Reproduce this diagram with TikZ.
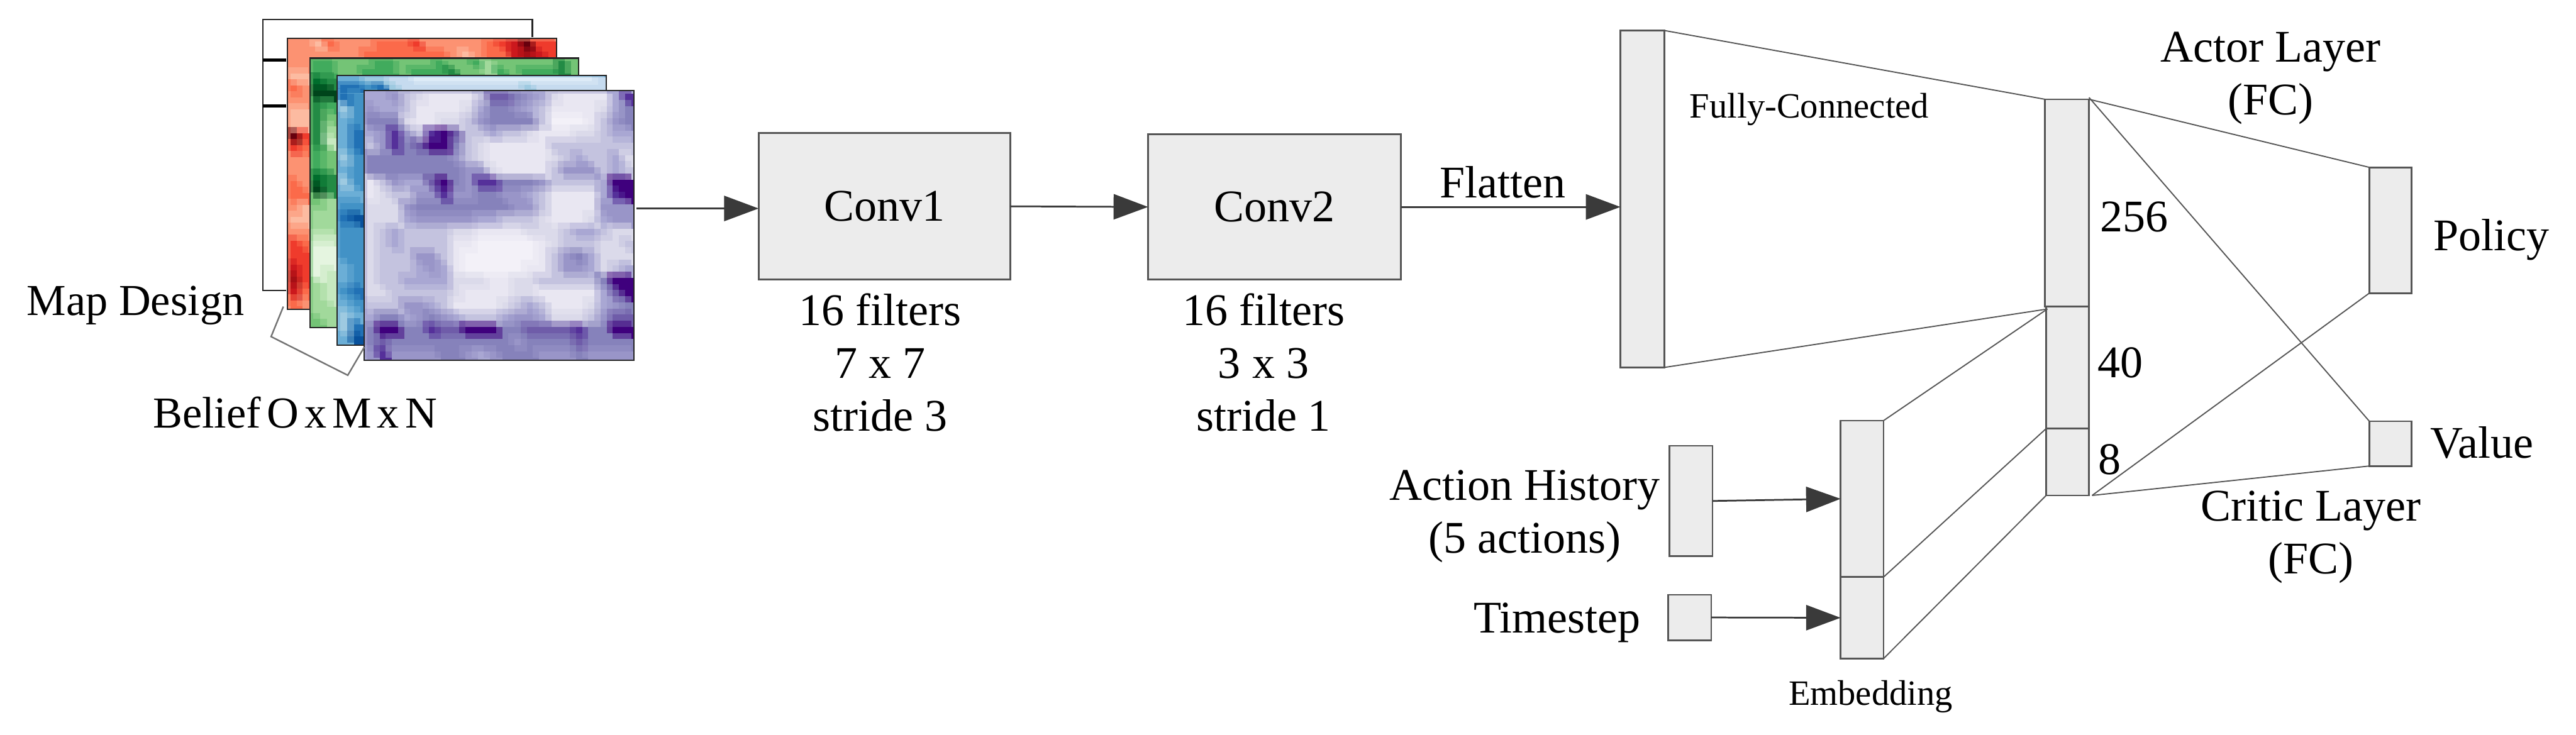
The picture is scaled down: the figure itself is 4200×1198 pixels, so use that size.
\documentclass[tikz,border=0pt]{standalone}
\usepackage{fontspec}
\setmainfont{Liberation Serif}
\usetikzlibrary{arrows.meta, calc}

\definecolor{boxgray}{HTML}{ECECEC}
\definecolor{linegray}{HTML}{555555}
\definecolor{tipgray}{HTML}{3A3A3A}

\definecolor{reds0}{HTML}{FFF5F0}\definecolor{reds1}{HTML}{FEE0D2}\definecolor{reds2}{HTML}{FCBBA1}
\definecolor{reds3}{HTML}{FC9272}\definecolor{reds4}{HTML}{FB6A4A}\definecolor{reds5}{HTML}{EF3B2C}
\definecolor{reds6}{HTML}{CB181D}\definecolor{reds7}{HTML}{A50F15}\definecolor{reds8}{HTML}{67000D}
\definecolor{greens0}{HTML}{F7FCF5}\definecolor{greens1}{HTML}{E5F5E0}\definecolor{greens2}{HTML}{C7E9C0}
\definecolor{greens3}{HTML}{A1D99B}\definecolor{greens4}{HTML}{74C476}\definecolor{greens5}{HTML}{41AB5D}
\definecolor{greens6}{HTML}{238B45}\definecolor{greens7}{HTML}{006D2C}\definecolor{greens8}{HTML}{00441B}
\definecolor{blues0}{HTML}{F7FBFF}\definecolor{blues1}{HTML}{DEEBF7}\definecolor{blues2}{HTML}{C6DBEF}
\definecolor{blues3}{HTML}{9ECAE1}\definecolor{blues4}{HTML}{6BAED6}\definecolor{blues5}{HTML}{4292C6}
\definecolor{blues6}{HTML}{2171B5}\definecolor{blues7}{HTML}{08519C}\definecolor{blues8}{HTML}{08306B}
\definecolor{purps0}{HTML}{F3F1F8}\definecolor{purps1}{HTML}{E9E7F2}\definecolor{purps2}{HTML}{DBDAEA}
\definecolor{purps3}{HTML}{C4C3DF}\definecolor{purps4}{HTML}{A9A7D3}\definecolor{purps5}{HTML}{9995C8}
\definecolor{purps6}{HTML}{8682BB}\definecolor{purps7}{HTML}{6F5CA9}\definecolor{purps8}{HTML}{55309A}
\definecolor{purps9}{HTML}{3F007D}

\newcommand{\heatgrid}[6]{
	\foreach \row [count=\j from 0] in {#6} {
		\foreach \v [count=\i from 0] in \row {
			\fill[#1\v] ({#2+\i*#4},{#3+\j*#5}) rectangle ++(#4+1,#5+1);
			\fill[#1\v, opacity=0.5] ({#2+\i*#4-#4/2},{#3+\j*#5-#5/2}) rectangle ++(#4,#5);
		}
	}
}

\tikzset{
	layer/.style = {draw=linegray, fill=boxgray, line width=0.8pt, inner sep=0pt, outer sep=0pt, font=\fontsize{21}{24.5}\selectfont},
	panel/.style = {draw=black!85, line width=0.6pt, inner sep=0pt, outer sep=0pt},
	caption/.style = {inner sep=0pt, outer sep=0pt, anchor=base, align=center, font=\fontsize{21}{24.5}\selectfont},
	small caption/.style = {caption, font=\fontsize{16.5}{20}\selectfont},
	link/.style = {draw=linegray, line width=0.55pt},
	flow/.style = {draw=tipgray, line width=0.8pt, -{Triangle[length=16pt, width=11.7pt, fill=tipgray]}},
}

\begin{document}
\begin{tikzpicture}[x=0.01cm, y=-0.01cm]
	\useasboundingbox (0,0) rectangle (4200,1198);

	\draw[black!85, line width=0.6pt] (467,474) -- (429,474) -- (429,32) -- (868,32) -- (868,61);
	\draw[black, line width=1.3pt] (429,98) -- (467,98);
	\draw[black, line width=1.3pt] (429,173) -- (467,173);

	\begin{scope}
		\clip (469,63) rectangle (907,504);
		\fill[reds3] (469,63) rectangle (907,504);
		\heatgrid{reds}{474}{68}{20}{16}{{3,3,2,4,3,3,3,4,4,4,5,3,3,3,3,3,4,5,6,8,5,5},{3,3,3,3,3,3,4,4,4,4,4,4,4,3,2,3,4,4,6,7,6,5}}
		\heatgrid{reds}{474}{100}{19}{19.5}{{3,3},{2,2},{4,3},{3,3},{2,2},{2,2},{8,5},{5,4},{3,3},{3,3},{4,3},{4,4},{3,2},{2,2},{3,3},{5,4},{5,5},{6,5},{7,5},{6,4},{4,3}}
	\end{scope}
	\node[panel, minimum width=4.38cm, minimum height=4.41cm] (redmap) at (688,283.5) {};

	\begin{scope}
		\clip (506,95) rectangle (943,534);
		\fill[greens4] (506,95) rectangle (943,534);
		\heatgrid{greens}{511}{99}{20}{14}{{5,5,4,4,4,5,5,4,4,4,5,4,4,5,3,4,4,4,4,4,6,4},{5,5,4,4,5,5,5,4,5,5,5,6,4,4,3,5,4,5,5,5,6,4}}
		\heatgrid{greens}{511}{128}{22}{19.6}{{7,6},{8,8},{6,5},{6,4},{6,3},{6,2},{5,4},{5,4},{7,6},{8,6},{4,3},{3,3},{3,3},{2,2},{1,1},{1,1},{1,2},{3,2},{3,2},{3,3},{4,3}}
	\end{scope}
	\node[panel, minimum width=4.37cm, minimum height=4.39cm] (greenmap) at (724.5,314.5) {};

	\begin{scope}
		\clip (550,123) rectangle (988,563);
		\fill[blues4] (550,123) rectangle (988,563);
		\heatgrid{blues}{555}{126}{20}{12.5}{{4,4,3,3,2,2,1,1,1,1,1,1,1,1,1,1,1,1,1,1,1,2},{6,6,5,6,3,2,2,2,2,2,2,2,2,2,2,3,2,2,2,2,2,2}}
		\heatgrid{blues}{555}{153}{22}{19.8}{{6,5},{3,5},{4,5},{4,6},{4,6},{3,5},{4,5},{3,5},{4,4},{5,5},{6,7},{5,5},{5,5},{5,5},{4,5},{4,5},{5,6},{4,5},{3,4},{3,6},{4,7}}
	\end{scope}
	\node[panel, minimum width=4.38cm, minimum height=4.40cm] (bluemap) at (769,343) {};

	\begin{scope}
		\clip (594,148) rectangle (1033,587);
		\fill[purps4] (594,148) rectangle (1033,587);
		\heatgrid{purps}{599}{153}{20}{20}{
			{4,4,5,3,2,1,1,1,1,3,7,7,6,5,4,2,1,1,1,1,4,8},
			{5,4,4,3,1,1,1,1,2,4,6,6,5,4,3,1,1,1,1,2,4,6},
			{6,6,6,2,1,1,2,2,3,5,6,6,6,6,3,0,0,0,1,3,5,6},
			{4,5,8,5,3,8,9,7,3,3,4,3,3,2,1,1,1,2,2,3,4,4},
			{3,5,8,6,7,9,9,6,3,2,1,1,1,1,1,3,3,3,3,3,3,3},
			{6,6,6,6,6,6,6,5,3,2,1,1,1,1,1,2,3,4,3,3,4,2},
			{6,6,6,6,6,6,6,6,5,5,2,1,1,1,1,3,5,5,5,3,4,3},
			{1,3,5,4,4,7,9,6,5,8,8,6,6,6,5,3,3,3,3,4,9,9},
			{1,2,3,3,5,5,8,5,5,6,6,5,5,4,3,1,1,1,1,4,8,9},
			{2,2,2,5,6,6,6,6,6,6,6,6,5,5,3,1,1,1,1,5,5,5},
			{2,2,2,4,5,5,5,5,5,4,4,3,3,3,2,1,1,1,2,4,5,5},
			{2,3,4,3,3,3,3,2,2,1,1,1,1,2,2,2,3,4,4,3,2,2},
			{2,3,4,3,3,3,3,1,1,0,0,0,0,0,1,2,3,3,3,2,2,3},
			{2,3,3,3,5,5,3,1,0,0,0,0,0,0,1,3,5,6,4,2,2,2},
			{2,3,3,3,4,5,4,1,0,0,0,0,0,1,1,3,5,5,4,2,3,4},
			{2,3,3,4,4,4,4,2,2,2,1,1,2,2,3,3,3,3,3,6,9,9},
			{2,2,3,3,3,3,3,2,1,1,1,1,2,2,1,1,1,1,1,4,7,9},
			{3,3,3,5,5,4,3,1,1,1,1,2,3,4,3,1,1,1,2,4,5,6},
			{4,6,6,4,5,6,5,4,3,3,3,4,5,5,4,2,2,2,3,5,7,7},
			{6,9,9,6,6,8,7,7,9,9,9,6,6,7,7,7,7,8,6,6,9,9},
			{6,7,6,6,6,6,6,6,6,6,6,6,5,6,6,6,6,7,6,6,6,6},
			{5,8,5,5,5,5,6,6,5,4,5,6,6,6,5,5,5,6,5,5,5,5}}
	\end{scope}
	\node[panel, minimum width=4.39cm, minimum height=4.39cm] (purplemap) at (813.5,367.5) {};

	\draw[draw=black!55, line width=0.7pt] (462,500) -- (442,549) -- (567,612) -- (594,566);

	\node[caption, font=\fontsize{20.5}{24.5}\selectfont] (mapdesign) at (221,514) {Map Design};
	\node[caption, font=\fontsize{20.5}{24.5}\selectfont] (belief) at (481,698) {\spaceskip=0.13em\relax Belief O x M x N};

	\node[layer, minimum width=4.10cm, minimum height=2.39cm] (conv1) at (1442,336.5) {Conv1};
	\node[layer, minimum width=4.12cm, minimum height=2.37cm] (conv2) at (2078,337.5) {Conv2};
	\node[caption] (conv1text) at (1435,703) {16 filters\\7 x 7\\stride 3};
	\node[caption] (conv2text) at (2060,703) {16 filters\\3 x 3\\stride 1};

	\node[layer, minimum width=0.72cm, minimum height=5.49cm] (fcin) at (2678,324.5) {};
	\node[layer, minimum width=0.72cm, minimum height=3.38cm] (hidden256) at (3370,331) {};
	\node[layer, minimum width=0.70cm, minimum height=1.99cm] (hidden40) at (3371,599.5) {};
	\node[layer, minimum width=0.70cm, minimum height=1.09cm] (hidden8) at (3371,753.5) {};
	\node[layer, minimum width=0.69cm, minimum height=2.05cm] (policy) at (3897.5,375.5) {};
	\node[layer, minimum width=0.69cm, minimum height=0.73cm] (value) at (3897.5,723.5) {};
	\node[layer, minimum width=0.70cm, minimum height=2.55cm] (embed1) at (3036,813.5) {};
	\node[layer, minimum width=0.70cm, minimum height=1.33cm] (embed2) at (3036,1007.5) {};
	\node[layer, minimum width=0.70cm, minimum height=1.80cm] (action) at (2757,817) {};
	\node[layer, minimum width=0.70cm, minimum height=0.74cm] (timestep) at (2755,1007) {};

	\node[caption] (flatten) at (2450,322) {Flatten};
	\node[small caption] (fclabel) at (2950,192.5) {Fully-Connected};
	\node[caption] (actorlabel) at (3702,187) {Actor Layer\\(FC)};
	\node[caption] (criticlabel) at (3768,936) {Critic Layer\\(FC)};
	\node[caption] (n256) at (3480,378) {256};
	\node[caption] (n40) at (3457,616) {40};
	\node[caption] (n8) at (3440,774) {8};
	\node[caption] (policylabel) at (4062,409) {Policy};
	\node[caption] (valuelabel) at (4047,747) {Value};
	\node[caption] (actionlabel) at (2486,902) {Action History\\(5 actions)};
	\node[caption] (timesteplabel) at (2539,1032) {Timestep};
	\node[small caption] (embedlabel) at (3050,1150) {Embedding};

	\coordinate (beliefout) at (1038,340);
	\coordinate (joint) at (3338,504);
	\coordinate (valuetop) at (3406,159);
	\coordinate (sharedout) at (3411,808);

	\begin{scope}[link]
		\draw (fcin.north east) -- (hidden256.north west);
		\draw (fcin.south east) -- (joint);
		\draw (embed1.north east) -- (joint);
		\draw (embed1.south east) -- (hidden40.south west);
		\draw (embed2.south east) -- (hidden8.south west);
		\draw (hidden256.north east) -- (policy.north west);
		\draw (valuetop) -- (value.north west);
		\draw (sharedout) -- (policy.south west);
		\draw (sharedout) -- (value.south west);
	\end{scope}

	\begin{scope}[flow]
		\draw (beliefout) -- (beliefout -| conv1.west);
		\draw (conv1.east) -- (conv2.west);
		\draw (conv2.east) -- (conv2.east -| fcin.west);
		\draw (action.east) -- (embed1.west);
		\draw (timestep.east) -- (embed2.west);
	\end{scope}
\end{tikzpicture}
\end{document}
